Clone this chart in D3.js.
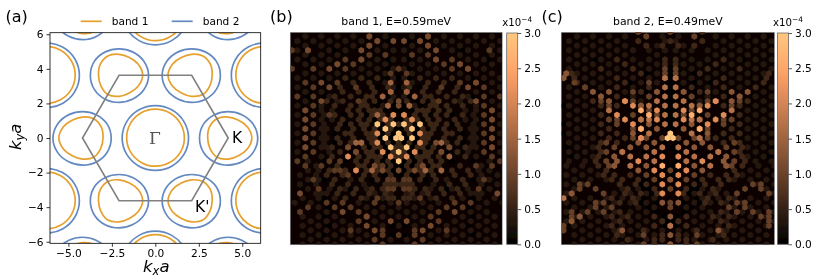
<!DOCTYPE html>
<html><head><meta charset="utf-8">
<script src="https://cdn.jsdelivr.net/npm/d3@7/dist/d3.min.js"></script>
<style>html,body{margin:0;background:#fff}svg{display:block}text{font-family:"DejaVu Sans",sans-serif;fill:#000}</style>
</head><body><svg id="c" width="830" height="277"></svg>
<script>
// panel (a): pocket centres and radii every 30 degrees
const gammaCentres=[[0,0],[6.28,3.63],[-6.28,3.63],[6.28,-3.63],[-6.28,-3.63],[0,7.26],[0,-7.26]];
const kCentres=[[4.19,0],[-2.09,3.63],[-2.09,-3.63],[4.19,7.26],[4.19,-7.26]];
const kpCentres=[[-4.19,0],[2.09,3.63],[2.09,-3.63],[-4.19,7.26],[-4.19,-7.26]];
const gammaBand1=[1.67,1.67,1.67,1.67,1.67,1.66,1.65,1.64,1.63,1.63,1.64,1.66];
const gammaBand2=[1.91,1.90,1.88,1.87,1.88,1.90,1.91,1.90,1.88,1.87,1.88,1.90];
const kBand1=[1.36,1.28,1.19,1.21,1.29,1.25,1.18,1.21,1.29,1.22,1.18,1.27];
const kBand2=[1.70,1.64,1.56,1.52,1.56,1.63,1.65,1.64,1.60,1.57,1.59,1.66];
const kpBand1=[1.18,1.25,1.29,1.21,1.19,1.28,1.36,1.27,1.18,1.22,1.29,1.21];
const kpBand2=[1.65,1.63,1.56,1.52,1.56,1.64,1.70,1.66,1.59,1.57,1.60,1.64];
const bzCorners=[[4.19,0],[2.09,3.63],[-2.09,3.63],[-4.19,0],[-2.09,-3.63],[2.09,-3.63]];
const xTicksA=[-5,-2.5,0,2.5,5], yTicksA=[-6,-4,-2,0,2,4,6], barTicks=[0,0.5,1,1.5,2,2.5,3];
const legendNames=["band 1","band 2"], titles=["band 1, E=0.59meV","band 2, E=0.49meV"];
// panels (b),(c): intensity levels; each row is [row index, site indices...]
const b1Levels=[0,0.35,0.55,0.85,1.1,1.5,2.1,3.0];
const b1Rows=[
 [[-3,-1,1,-9,9],[-1,-1,1,-7,7],[0,-2,2,-6,6],[1,-3,3,-7,7],[2,-2,2,-6,6],[3,-5,5,-11,11],[4,-4,4,-8,8],[5,-5,5],[6,-2,2,-6,6],[7,-1,1,-5,5],[8,-2,2],[9,-1,1,-5,5],[-5,-1,1,-5,5],[-6,-2,2,-8,8],[-7,-1,1,-7,7],[-8,-2,2,-4,4],[-10,-8,8,0],[-12,0,-4,4],[-14,-4,4],[-4,-12,12,-20,20],[-2,-20,20],[0,-24,24],[2,-24,24],[4,-18,18],[6,-20,20,-28,28],[-8,-28,28,-34,34],[-12,-28,28],[-16,-34,34,-4,4],[-18,-24,24],[-20,-4,4],[10,-10,10,-28,28],[12,-18,18],[14,-28,28],[16,-26,26],[18,-28,28],[20,-26,26,-2,2],[22,-28,28,-2,2]],
 [[-21,-35,-29,-23,-17,-5,5,17,23,29,35],[-20,-38,-32,-26,-20,-14,14,20,26,32,38],[-19,-35,-29,-23,-17,-5,5,17,23,29,35],[-18,-38,-26,-20,-8,-2,2,8,20,26,38],[-17,-35,-29,-23,-11,11,23,29,35],[-16,-38,-32,-26,-8,-2,2,8,26,32,38],[-15,-35,-29,-11,-5,5,11,29,35],[-14,-26,-14,-8,-2,2,8,14,26,32],[-13,-35,-29,-23,-17,-11,-5,5,11,17,23,29,35],[-12,-38,-32,-26,-2,2,26,32,38],[-11,-29,-5,5,35],[-10,-38,-2,2,38],[-9,-35,-29,35,29],[-8,-38,-26,-2,2,26],[-7,-35,-23,23,35],[-6,-38,-29,-6,6,29,38],[-5,-29,-25,25,29],[-4,-38,-28,28,38],[-3,-29,-25,25,29],[-2,-38,-28,28,38],[-1,-29,-27,27,29],[0,-38,-28,28,38],[1,-29,-27,27,29],[2,-38,-28,28,38],[3,-29,29,-27,27],[4,-38,-26,26,38],[5,-29,29],[6,-34,34],[7,-31,31],[8,-34,-30,30,34],[9,-37,-31,31,37],[10,-34,-30,-18,18,30,34],[11,-37,-31,-13,13,31,37],[12,-34,-26,-20,-12,12,20,26,34],[13,-31,-29,-27,-9,-3,3,9,27,29,31],[14,-36,-30,-24,-12,-6,6,12,24,30,36],[15,-39,-33,-15,-9,-3,3,9,15,33,39],[16,-30,-12,-6,0,6,12,30],[17,-27,-9,-3,3,9,27,33],[18,-36,-30,-24,-6,0,6,24,30,36],[19,-33,-27,-21,-9,9,21,27,33],[20,-36,-30,-24,-18,-6,0,6,18,24,30,36],[21,-33,-27,-21,-15,15,21,27,33],[22,-36,-30,-24,-18,-12,12,18,24,30,36],[23,-33,-27,-21,-15,-3,3,15,21,27,33],[24,-36,-30,-24,-18,-12,12,18,24,30,36]],
 [[-12,-20,-14,-8,8,14,20],[-11,-17,-11,11,17],[-10,-22,-10,-4,4,10,22],[-9,-21,-15,-9,9,15,21],[-8,-24,-18,-12,-10,10,12,18,24],[-7,-27,-21,-13,-9,-3,3,9,13,21,27],[-6,-24,-18,-14,-12,-4,4,12,14,18,24],[-5,-19,-15,-11,-9,-7,7,9,11,15,19],[-4,-24,-18,-14,-10,-6,6,10,14,18,24],[-3,-21,-15,-11,-7,-3,3,7,11,15,21],[-2,-22,-18,-14,-12,-4,0,4,12,14,18,22],[-1,-23,-17,-13,-9,-3,3,9,13,17,23],[0,-20,-18,-12,-10,-4,4,10,12,18,20],[1,-23,-17,-11,-9,9,11,17,23],[2,-22,-18,-10,-4,0,4,10,18,22],[3,-25,-13,-9,-7,-1,1,7,9,13,25],[4,-22,-12,-10,-2,2,10,12,22],[5,-25,-15,-11,-9,-7,-1,1,7,9,11,15,25],[6,-16,-12,-8,-4,4,8,12,16],[7,-23,-15,-13,-7,-3,3,7,13,15,23],[8,-26,-20,-12,-8,-4,4,8,12,20,26],[9,-27,-21,-13,-9,-3,3,9,13,21,27],[10,-24,-14,-8,8,14,24],[11,-25,-19,-5,-3,-1,1,3,5,19,25],[12,-22,-16,-10,-6,6,10,16,22],[13,-23,-17,-11,-5,5,11,17,23],[14,-20,-14,-4,-2,2,4,14,20]],
 [[-21,-11,11],[-20,-8,8],[-19,-11,11],[-18,-34,-40,34],[-17,-11,-5,5,11],[-16,-20,-14,14,20],[-15,-23,-17,17,23],[-14,-32,-20,-40,0,20,26],[-13,-3,3],[-11,-35,-23,23,29],[-10,-32,-16,16,32],[-8,-32,32,-38,38],[-7,-15,15],[-6,-32,32],[-5,-35,35],[-4,-32,-26,32],[-3,-35,35],[-2,-32,32],[-1,-35,35],[0,-32,32],[1,-35,35],[2,-32,32],[3,-35,-19,19,35],[4,-32,-16,16,32],[5,-35,35],[6,-38,-26,-22,38],[7,-35,-29,-9,-6,9,29,35],[8,-24,-22],[9,-19],[10,-32,-4,-2,2,4,32],[12,-30,-4,-2,2,4,30],[14,-8,8],[15,-27,-21,-9,0,21,27],[16,-34,-24,-18,18,24],[17,-37,-15,15],[18,-12,12],[19,-15,15],[21,-18,-6,6,18],[22,-6,0,6],[23,-9,9],[24,-6,6]],
 [[-20,-8,-2,2,8],[-21,-11,11],[-19,-11,11],[-18,-14,14,-34],[-16,-14,14],[-15,-23,23],[-14,-26,26],[-10,-26,26],[-11,-29,29],[-9,-3,3],[-7,-29,29,0],[-6,0],[-5,-35,35],[-3,-35,35],[-1,-35,35],[1,-35,35],[3,-19,19,-35,35],[4,-16,16],[2,-14,14],[7,-9,9],[8,0,-6,6],[13,-37,37],[17,-21,21],[18,-12],[19,-3,3],[20,-12,12],[21,-9,9]],
 [[-11,-3,3],[-9,-3,3],[-8,-6,6],[-4,-8],[2,-16,16,-14],[8,-10,10],[-6,-4,4],[8,16],[5,19]],
 [[-4,-2,2],[-3,-5,5],[0,-8,8],[2,-8,8],[4,-6,6],[5,-3,3,-19],[8,-16]],
 [[-2,-8,-2,2,8],[-1,-5,5],[0,0],[1,-5,-1,1,5],[3,-3,3],[4,0],[6,0]]
];
const b2Levels=[0,0.35,0.6,0.95,1.3,1.7,2.1,2.6,3.0];
const b2Rows=[
 [[-14,0],[-12,0],[-10,0,-8,8,-14,14],[-8,0],[-6,0],[-4,0],[-2,0],[-13,-1,1,-9,9],[-11,-1,1,-9,-15,9,15],[-9,-1,1,-9,9],[-7,-1,1],[-5,-1,1],[-3,-1,1],[-1,-1,1],[-14,-20,20],[-16,-28,28],[10,-10,10],[11,-11,11],[12,-8,8,-10,10],[13,-7,7],[14,-10,10],[15,-5,5,-11,11],[16,-8,8],[17,-5,5],[18,-2,2],[19,-1,1],[20,-2,2],[6,-2,2],[7,-1,1],[8,-2,2],[9,-1,1],[4,-2,2,-10,10],[2,-2,2],[3,-1,1],[-6,-40,40],[0,-40,40],[3,-39,39],[5,-37,37],[-2,-40,40]],
 [[-21,-35,-29,-23,-17,-3,3,17,23,29,35],[-20,-38,-32,-26,-20,-2,2,20,26,32,38],[-19,-35,-29,-23,-17,-9,-5,5,9,17,23,29,35],[-18,-38,-32,-26,-20,-14,-8,-2,2,8,14,20,26,32,38],[-17,-35,-29,-23,-17,-5,5,17,23,29,35],[-16,-38,-32,-26,-14,-8,8,14,26,32,38],[-15,-35,-29,-23,-11,-5,5,11,23,29,35],[-14,-38,-32,-20,-8,8,20,32,38],[-13,-35,-29,-23,-17,-5,5,17,23,29,35],[-12,-32,-26,-14,-8,8,14,26,32],[-11,-29,-23,-11,-5,5,11,23,29],[-10,-38,-26,-14,14,26,38],[-9,-35,-23,-17,17,23,35],[-8,-38,-32,-14,14,32,38],[-7,-35,-11,11,35],[-6,-38,-32,32,38],[-5,-35,-29,29,35],[-4,-38,-32,32,38],[-3,-35,-29,29,35],[-2,-38,-32,32,38],[-1,-35,-29,29,35],[0,-38,-32,32,38],[1,-35,-29,29,35],[2,-38,-32,32,38],[3,-35,-29,29,35],[4,-38,-32,32,38],[5,-35,-29,29,35],[6,-38,-32,32,38],[7,-39,-33,33,39],[8,-36,-30,30,36],[9,-39,-33,-27,27,33,39],[10,-36,-30,-24,24,30,36],[11,-39,-33,33,39],[12,-36,-18,-12,12,18,36],[13,-39,-21,-15,-9,-3,3,9,15,21,39],[14,-36,-30,-24,-18,-12,-6,6,12,18,24,30,36],[15,-39,-33,-27,-21,-15,-9,9,15,21,27,33,39],[16,-36,-30,-24,-12,-6,6,12,24,30,36],[17,-39,-33,-27,-21,-15,-9,9,15,21,27,33,39],[18,-36,-30,-24,-18,-12,12,18,24,30,36],[19,-39,-33,-27,-21,-15,-9,-3,3,9,15,21,27,33,39],[20,-36,-30,-24,-18,-12,-6,6,12,18,24,30,36],[21,-33,-27,-21,-15,-9,-3,3,9,15,21,27,33],[22,-36,-30,-24,-18,-12,-6,6,12,18,24,30,36],[23,-33,-27,-21,-15,-9,-3,3,9,15,21,27,33],[24,-36,-30,-24,-18,-12,-6,6,12,18,24,30,36]],
 [[-22,-12,12,0],[-21,-9,9],[-20,-12,12,0],[-19,-9,9,-3,3],[-16,-2,2,-20,20],[-15,-2,2,-17,17],[-14,-26,26,-14,14],[-13,-11,11,-37,37],[-12,-20,20,-36,36],[-11,-35,-17,17,35],[-10,-32,-20,-8,8,20,32],[-9,-29,-11,11,29],[-8,-26,-20,-8,8,20,26],[-7,-29,-23,23,29],[-6,-26,-20,26,20],[-5,-23,23],[-4,-26,26],[-3,-23,23],[-2,-26,26],[-1,-23,23],[0,-26,-20,20,26],[1,-23,-17,17,23],[2,-26,-20,20,26],[3,-27,27],[4,-26,-24,24,26],[5,-27,27],[6,-28,-24,24,28],[7,-27,27],[8,-24,24],[9,-25,-21,-15,15,21,25],[10,-22,-18,-12,12,18,22],[11,-19,-13,-9,9,13,19],[12,-16,-6,6,16],[13,-17,-11,-5,5,11,17],[14,-22,-14,14,22],[15,-19,-13,13,19],[17,-25,-19,19,25],[18,-22,-16,16,22,-6,6],[19,-19,19,-3,3],[20,-22,22,-6,6],[21,-19,-10,10,19],[22,-20,-3,3,20],[23,-16,-6,6,16,-3,3],[24,-6,6]],
 [[-22,0,-12],[-21,-9,9],[-14,-2,2],[-13,-39,-2,2],[-12,-40,-2,2],[-11,-36,-8],[-10,-32],[-9,-5,5,-14,14],[-8,-8,8,-26,26],[-7,-26,26,-14,14],[-6,-23,23,-11,11],[-5,-8,8],[-4,-14,14,-5,5],[-3,-23,23,-20,20],[-2,-20,20],[-1,-14,14],[1,-3,3,-14,14,-9,9],[2,-24,24],[3,-21,21],[4,-24,24],[5,-21,21],[6,-24,24],[7,-21,21,-23,23],[8,0],[9,-9,9],[10,0,-6,6],[11,-34,34,-31,31],[12,-34,34,-28,28,0],[13,-37,37,-25,25],[15,-25,25,-28,28,0],[16,-28,28,-22,22,0],[17,-37,-31,31,37,-25,25],[18,-34,-37,37,34],[19,-37,37],[20,-40,37,0],[21,-40,40],[22,-10,10],[24,-10,10,0]],
 [[-13,-39],[-12,-40],[-9,-23,23,-5,5],[-9,-29,29],[-8,-26,26],[-7,-23,23],[-6,-11,11],[-3,-11,11],[-1,-5,5],[-2,-8,8],[1,-11,11],[0,-14,14],[3,-9,9,-15,15],[4,-18,18],[2,-12,12,-6,6],[5,-21,21],[7,-9,9,-21,21],[8,-12,12],[6,-20,20],[10,0],[18,0,-34],[19,-37],[22,0],[24,0],[13,-37],[15,-3,3],[21,-18,18]],
 [[-12,-2,2],[-10,-2,2],[-8,-2,2],[-7,-17,17,-5,5],[-6,-2,2,-8,8],[-5,-23,23],[-4,-2,2],[-3,-8,8,-11,11],[-2,-2,2],[-1,-11,11],[0,-8,8],[1,-11,11],[4,-6,6,-18,18],[6,-6,6],[5,-15,15,-9,9],[7,-15,15],[3,-3,3],[20,0],[14,-40]],
 [[-7,-17,17],[-6,-14,14],[-5,-5,5],[-3,-5,5],[-2,-14,14],[-3,-17,17],[-4,-20,20],[1,-11],[5,-3,3],[8,-6,6],[9,-3,3],[11,-3,3],[13,-3,3],[6,-12,12]],
 [[-5,-11,11],[-4,-8,8],[-1,-11,11],[7,-3,3]],
 [[0,0],[1,-1,1]]
];
const W=830,H=277, svg=d3.select("#c");
const defs=svg.append("defs");
defs.append("filter").attr("id","soft").attr("x","-5%").attr("y","-5%").attr("width","110%").attr("height","110%")
 .append("feGaussianBlur").attr("stdDeviation",0.5);
defs.append("clipPath").attr("id","clipA").append("rect").attr("x",50).attr("y",32.7).attr("width",210.7).attr("height",210.6);
const copper=t=>d3.rgb(255*Math.min(1,1.25*t),255*0.7812*t,255*0.4975*t);
const color=d3.scaleSequential(t=>copper(t)).domain([0,3]).clamp(true);
// (a)
const xA=d3.scaleLinear().domain([-6.06,6.06]).range([50,260.7]);
const yA=d3.scaleLinear().domain([-6.09,6.09]).range([243.3,32.7]);
const ring=(c,r)=>r.map((d,i)=>[c[0]+d*Math.cos(i*Math.PI/6),c[1]+d*Math.sin(i*Math.PI/6)]);
const pocket=d3.line().x(d=>xA(d[0])).y(d=>yA(d[1])).curve(d3.curveCatmullRomClosed);
const ga=svg.append("g").attr("filter","url(#soft)");
const g1=ga.append("g").attr("clip-path","url(#clipA)");
const orange="#e6a02e", blue="#6489c2";
const sets=[[gammaCentres,gammaBand2,blue],[kCentres,kBand2,blue],[kpCentres,kpBand2,blue],[gammaCentres,gammaBand1,orange],[kCentres,kBand1,orange],[kpCentres,kpBand1,orange]];
sets.forEach(([cs,r,col])=>cs.forEach(c=>g1.append("path").attr("d",pocket(ring(c,r))).attr("fill","none").attr("stroke",col).attr("stroke-width",1.7)));
g1.append("path").attr("d",d3.line().x(d=>xA(d[0])).y(d=>yA(d[1])).curve(d3.curveLinearClosed)(bzCorners)).attr("fill","none").attr("stroke","#808080").attr("stroke-width",1.6);
const fmt=d=>String(d.toFixed(1)).replace("-","−");
const axA=ga.append("g").attr("transform","translate(0,243.3)").call(d3.axisBottom(xA).tickValues(xTicksA).tickFormat(fmt).tickSize(3.5));
const ayA=ga.append("g").attr("transform","translate(50,0)").call(d3.axisLeft(yA).tickValues(yTicksA).tickFormat(d=>String(d).replace("-","−")).tickSize(3.5));
[axA,ayA].forEach(a=>{a.selectAll("text").style("font-size","10.6px").style("font-family","DejaVu Sans");a.selectAll("path,line").attr("stroke","#000").attr("stroke-width",0.8);a.select(".domain").attr("stroke-width",0)});
ga.append("rect").attr("x",50).attr("y",32.7).attr("width",210.7).attr("height",210.6).attr("fill","none").attr("stroke","#000").attr("stroke-width",0.8);
const T=(p,x,y,s,sz,extra)=>{const t=p.append("text").attr("x",x).attr("y",y).text(s).style("font-size",sz+"px");if(extra)extra(t);return t};
T(ga,xA(0)-0.5,yA(0)+6,"Γ",17,t=>t.attr("text-anchor","middle").style("font-family","DejaVu Serif").style("fill","#555"));
T(ga,232,142.5,"K",15.5);
T(ga,195,212,"K'",15.5);
T(ga,5.5,22,"(a)",16); T(ga,270,22,"(b)",16); T(ga,541.5,22,"(c)",16);
legendNames.forEach((n,i)=>{const x=80.7+i*91;ga.append("line").attr("x1",x).attr("x2",x+21).attr("y1",21.3).attr("y2",21.3).attr("stroke",i?blue:orange).attr("stroke-width",1.7);T(ga,x+31,25,n,10.6)});
const kx=T(ga,143,272,"",16.5);kx.append("tspan").text("k").style("font-style","italic");kx.append("tspan").text("x").attr("dy",3).style("font-size","11.5px").style("font-style","italic");kx.append("tspan").text("a").attr("dy",-3).style("font-style","italic");
const ky=ga.append("text").attr("transform","translate(21,150) rotate(-90)").style("font-size","16.5px");ky.append("tspan").text("k").style("font-style","italic");ky.append("tspan").text("y").attr("dy",3).style("font-size","11.5px").style("font-style","italic");ky.append("tspan").text("a").attr("dy",-3).style("font-style","italic");
// (b),(c)
function panel(id,left,right,levels,rows,title,barLeft,cx){
 const uSpan=[(left-cx)/2.667,(right-cx)/2.667];
 const x=d3.scaleLinear().domain(uSpan).range([left,right]);
 const y=d3.scaleLinear().domain([-21.9,24.0]).range([32.3,244.3]);
 const g=svg.append("g").attr("filter","url(#soft)");
 defs.append("clipPath").attr("id",id).append("rect").attr("x",left).attr("y",32.3).attr("width",right-left).attr("height",212);
 g.append("rect").attr("x",left-.5).attr("y",32.3).attr("width",right-left+1).attr("height",212.5).attr("fill","#0b0603").attr("stroke","#999").attr("stroke-width",0.5);
 const inner=g.append("g").attr("clip-path",`url(#${id})`);
 const r=1.05*(x(2)-x(0))/Math.sqrt(3);
 const hex=d3.range(6).map(i=>[r*Math.sin(i*Math.PI/3),-r*Math.cos(i*Math.PI/3)]);
 const hexPath="M"+hex.map(p=>p.map(n=>n.toFixed(2)).join(",")).join("L")+"Z";
 levels.forEach((val,li)=>rows[li].forEach(row=>{const v=row[0];row.slice(1).forEach(u=>{
   inner.append("path").attr("d",hexPath).attr("transform",`translate(${x(u)},${y(v)})`).attr("fill",color(val));});}));
 T(g,(left+right)/2,25,title,10.9,t=>t.attr("text-anchor","middle"));
 const yB=d3.scaleLinear().domain([0,3]).range([244.3,33]);
 const grad=defs.append("linearGradient").attr("id",id+"g").attr("x1",0).attr("x2",0).attr("y1",1).attr("y2",0);
 d3.range(0,3.01,0.25).forEach(d=>grad.append("stop").attr("offset",d/3).attr("stop-color",color(d)));
 g.append("rect").attr("x",barLeft).attr("y",33).attr("width",11).attr("height",211.3).attr("fill",`url(#${id}g)`).attr("stroke","#666").attr("stroke-width",0.8);
 const ax=g.append("g").attr("transform",`translate(${barLeft+11},0)`).call(d3.axisRight(yB).tickValues(barTicks).tickFormat(d=>d.toFixed(1)).tickSize(3.5));
 ax.select(".domain").remove();ax.selectAll("line").attr("stroke","#333").attr("stroke-width",0.8);ax.selectAll("text").style("font-size","10.6px").style("font-family","DejaVu Sans");
 const lab=T(g,barLeft-4.5,26,"x10",10.2);lab.append("tspan").text("−4").attr("dy",-4).style("font-size","7.4px");
}
panel("pb",290.7,501.7,b1Levels,b1Rows,titles[0],506.7,398.67);
panel("pc",561.7,774,b2Levels,b2Rows,titles[1],777.5,670.3);
</script></body></html>
